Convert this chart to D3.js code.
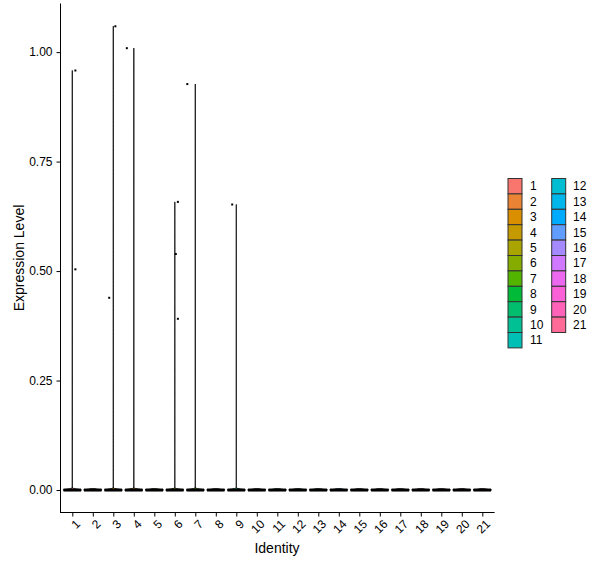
<!DOCTYPE html>
<html><head><meta charset="utf-8">
<script src="https://cdn.jsdelivr.net/npm/d3@7"></script>
<style>body{margin:0;background:#fff}svg{display:block}text{font-family:"Liberation Sans",Arial,sans-serif;fill:#000}</style>
</head><body>
<svg id="c" width="600" height="568"></svg>
<script>
// ---- data ----
const identities = ["1","2","3","4","5","6","7","8","9","10","11","12","13","14","15","16","17","18","19","20","21"];
// non-zero cells (all other cells are at 0)
const pointCluster = ["1","1","3","3","4","6","6","6","7","9"];
const pointValue   = [0.958,0.504,1.059,0.439,1.009,0.658,0.539,0.391,0.927,0.652];
const pointJitter  = [0.15,0.15,0.10,-0.20,-0.34,0.15,0.05,0.15,-0.39,-0.20];
const yTicks = [0, 0.25, 0.5, 0.75, 1.0];
const zeroCells = 2000; // approx. number of cells at 0 per identity

// ggplot hue palette (polar LUV, c=100, l=65)
function hueColor(h){
  const L=65,C=100,hr=h*Math.PI/180;
  const u=C*Math.cos(hr), v=C*Math.sin(hr);
  const Y=Math.pow((L+16)/116,3);
  const un=0.1978398, vn=0.4683363;
  const up=u/(13*L)+un, vp=v/(13*L)+vn;
  const X=9*Y*up/(4*vp), Z=-X/3-5*Y+3*Y/vp;
  let r=3.240479*X-1.537150*Y-0.498535*Z;
  let g=-0.969256*X+1.875992*Y+0.041556*Z;
  let b=0.055648*X-0.204043*Y+1.057311*Z;
  const gm=c=>{c=c<=0.0031308?12.92*c:1.055*Math.pow(c,1/2.4)-0.055;return Math.round(255*Math.max(0,Math.min(1,c)));};
  return d3.rgb(gm(r),gm(g),gm(b)).formatHex();
}
const n=identities.length;
const colors=identities.map((d,i)=>hueColor(15+360*i/n));
const color=d3.scaleOrdinal(identities,colors);

const svg=d3.select("#c");
const x=d3.scalePoint().domain(identities).range([60,494.6]).padding(0.6);
const y=d3.scaleLinear().domain([-0.0513,1.111]).range([512.5,3.5]);
const step=x.step();
const halfW=0.45*step;

// violins
const bw=0.0018;
const g=svg.append("g");
identities.forEach(id=>{
  const vals=pointValue.filter((v,i)=>pointCluster[i]===id);
  const m=vals.length?d3.max(vals):0;
  const cx=x(id);
  const dens=v=>zeroCells*Math.exp(-v*v/(2*bw*bw))+d3.sum(vals,p=>Math.exp(-(v-p)*(v-p)/(2*bw*bw)));
  const top=m>0?m:0.003;
  const grid=d3.range(0,1.0001,1/600).map(t=>t*top);
  const dmax=dens(0);
  const left=grid.map(v=>[cx-halfW*dens(v)/dmax,y(v)]);
  const right=grid.slice().reverse().map(v=>[cx+halfW*dens(v)/dmax,y(v)]);
  g.append("path").attr("d",d3.line()(left.concat(right))+"Z")
    .attr("fill",color(id)).attr("stroke","#000").attr("stroke-width",0.9);
  // band of jittered zero cells
  g.append("line").attr("x1",cx-halfW*0.95).attr("x2",cx+halfW*0.95)
    .attr("y1",y(0)).attr("y2",y(0)).attr("stroke","#000").attr("stroke-width",3);
});
// non-zero points
svg.append("g").selectAll("rect").data(pointValue).join("rect")
  .attr("x",(d,i)=>x(pointCluster[i])+pointJitter[i]*step-1)
  .attr("y",d=>y(d)-1).attr("width",2).attr("height",2).attr("fill","#000");

// axes
const yAxis=d3.axisLeft(y).tickValues(yTicks).tickFormat(d3.format(".2f")).tickSize(4).tickPadding(4);
const ya=svg.append("g").attr("transform","translate(60.5,0)").call(yAxis);
ya.select(".domain").attr("d","M0,3.5V512.5").attr("stroke","#000");
ya.selectAll(".tick line").attr("stroke","#000");
ya.selectAll("text").attr("font-size","12px").attr("fill","#000").style("font-family","Liberation Sans, Arial, sans-serif");

const xAxis=d3.axisBottom(x).tickSize(4).tickFormat(d=>d);
const xa=svg.append("g").attr("transform","translate(0,512.5)").call(xAxis);
xa.select(".domain").attr("d","M60,0H494.6").attr("stroke","#000");
xa.selectAll(".tick line").attr("stroke","#000");
xa.selectAll("text").attr("font-size","12px").attr("fill","#000")
  .style("font-family","Liberation Sans, Arial, sans-serif")
  .attr("text-anchor","end").attr("dy",null).attr("y",null)
  .attr("dominant-baseline","hanging")
  .attr("transform","translate(2,6) rotate(-45)");

// axis titles
svg.append("text").attr("x",277).attr("y",553).attr("text-anchor","middle").attr("font-size","14px").text("Identity");
svg.append("text").attr("transform","translate(24,258) rotate(-90)").attr("text-anchor","middle").attr("font-size","14px").text("Expression Level");

// legend
const rowH=15.4, keyW=14, top0=178.5;
const cols=[{x:508,lab:530},{x:551.7,lab:573}];
const leg=svg.append("g");
identities.forEach((id,i)=>{
  const c=i<11?0:1, r=i<11?i:i-11;
  const yy=top0+r*rowH;
  leg.append("rect").attr("x",cols[c].x).attr("y",yy).attr("width",keyW).attr("height",rowH)
    .attr("fill",color(id)).attr("stroke","#333").attr("stroke-width",1);
  leg.append("text").attr("x",cols[c].lab).attr("y",yy+rowH/2).attr("dy","0.35em")
    .attr("font-size","12px").text(id);
});
</script>
</body></html>
